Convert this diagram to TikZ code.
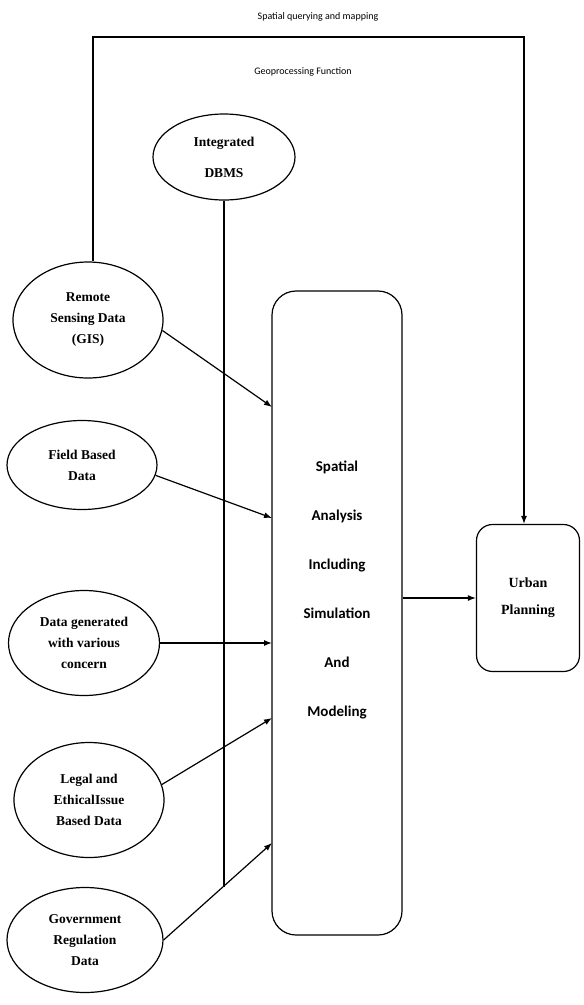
\documentclass[tikz,border=0pt]{standalone}
\usepackage{fontspec}
\setmainfont{Liberation Serif}
\newfontfamily\calfont{Carlito}
\usepackage{tikz}
\usetikzlibrary{arrows,arrows.meta,shapes.geometric,calc,positioning}

\begin{document}
\begin{tikzpicture}[
  x=1pt, y=-1pt,
  src/.style={draw, ellipse, line width=1.2pt, inner sep=0pt,
              align=center, font=\bfseries\fontsize{13.5}{21}\selectfont},
  bigbox/.style={draw, rounded corners=24pt, line width=1.2pt,
                 minimum width=130pt, minimum height=644pt},
  endbox/.style={draw, rounded corners=16pt, line width=1.2pt,
                 align=center, font=\bfseries\fontsize{14}{27}\selectfont,
                 minimum width=103pt, minimum height=147pt},
  note/.style={font=\calfont\fontsize{10}{12}\selectfont},
  arr/.style={-{Latex[length=8pt,width=6pt]}, line width=1.2pt},
  ln/.style={line width=1.2pt},
]
  \useasboundingbox (0,0) rectangle (584,1005);

  %% ---- sources ----
  \node[src, minimum width=142pt, minimum height=86pt] (dbms) at (224,157)
    {Integrated\\[10pt]DBMS};
  \node[src, minimum width=150pt, minimum height=116pt] (remote) at (88,320)
    {Remote\\Sensing Data\\(GIS)};
  \node[src, minimum width=150pt, minimum height=89pt] (field) at (82,465)
    {Field Based\\Data};
  \node[src, minimum width=151pt, minimum height=105pt] (datagen) at (84,643)
    {Data generated\\with various\\concern};
  \node[src, minimum width=150pt, minimum height=115pt] (legal) at (89,800)
    {Legal and\\EthicalIssue\\Based Data};
  \node[src, minimum width=156pt, minimum height=105pt] (govt) at (85,940)
    {Government\\Regulation\\Data};

  %% ---- analysis and planning ----
  \node[bigbox] (spatial) at (337,613) {};
  \node[align=center, font=\calfont\bfseries\fontsize{15}{49}\selectfont] (spatialtxt) at (337,590)
    {Spatial\\Analysis\\Including\\Simulation\\And\\Modeling};
  \node[endbox] (urban) at (528,598) {Urban\\Planning};

  %% ---- labels ----
  \node[note] (query) at (318,17) {Spatial querying and mapping};
  \node[note] (geoproc) at (303,72) {Geoprocessing Function};

  %% ---- inputs ----
  \coordinate (in1) at (272,407);
  \coordinate (in2) at (272,518);
  \coordinate (in3) at (272,643);
  \coordinate (in4) at (272,718);
  \coordinate (in5) at (272,843);
  \coordinate (top) at (0,37);

  \draw[arr] (remote.-8) -- (in1);
  \draw[arr] (field.-8) -- (in2);
  \draw[arr] (datagen.east) -- (in3);
  \draw[arr] (legal.12) -- (in4);
  \draw[arr] (govt.east) -- (in5);
  \coordinate (join) at ($(govt.east)!0.55!(in5)$);
  \draw[ln] (dbms.south) -- (dbms.south |- join);

  \draw[arr] (spatial.east |- urban.west) -- (urban.west);
  \draw[arr] ($(remote.north)+(5,0)$) |- ($(top -| urban.north)+(-4,0)$)
    -- ($(urban.north)+(-4,0)$);
\end{tikzpicture}
\end{document}
